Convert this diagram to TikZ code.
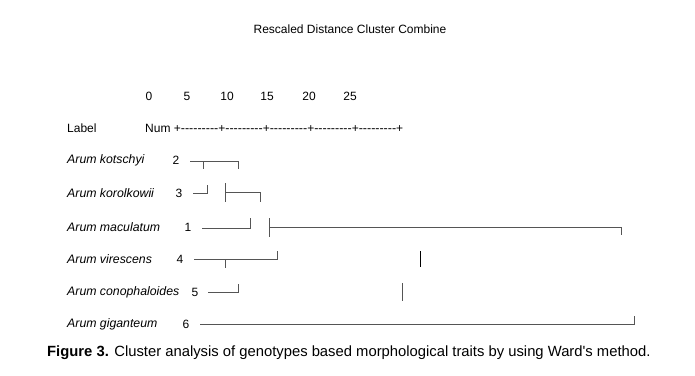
\documentclass[tikz,border=0pt]{standalone}
\usepackage{fontspec}
\setmainfont{Liberation Sans}[Ligatures=TeXOff]
\definecolor{ln}{HTML}{555555}
\newcommand\dashrun{{\fontsize{12.5}{14}\selectfont ---------}}
\begin{document}
\begin{tikzpicture}[x=1pt,y=-1pt,
  txt/.style={inner sep=0pt,font=\fontsize{12}{14}\selectfont,text=black},
  sp/.style={txt,anchor=west,font=\fontsize{12.3}{14}\selectfont\itshape},
  num/.style={txt,anchor=center},
  br/.style={draw=ln,line width=0.8pt},
  bk/.style={draw=black,line width=1pt}]
\useasboundingbox[fill=white] (0,0) rectangle (695,375);
\node[txt] (title) at (350,29) {Rescaled Distance Cluster Combine};
\foreach \v/\x in {0/149,5/187,10/227,15/267,20/309,25/350}
  \node[num] (s\v) at (\x,96) {\v};
\node[txt,anchor=west] (lab) at (67,128) {Label};
\node[txt,anchor=west] (numh) at (145,128) {Num +\dashrun+\dashrun+\dashrun+\dashrun+\dashrun+};
% species
\node[sp] (t2) at (67,160) {Arum kotschyi};
\node[num] (n2) at (176,160) {2};
\node[sp] (t3) at (67,193) {Arum korolkowii};
\node[num] (n3) at (179,193) {3};
\node[sp] (t1) at (67,227) {Arum maculatum};
\node[num] (n1) at (188,227) {1};
\node[sp] (t4) at (67,259) {Arum virescens};
\node[num] (n4) at (180,259) {4};
\node[sp] (t5) at (67,292) {Arum conophaloides};
\node[num] (n5) at (195,292) {5};
\node[sp] (t6) at (67,324) {Arum giganteum};
\node[num] (n6) at (186,324) {6};
% branches
\draw[br] (190,161) -- (238,161) -- (238,169);
\draw[br] (203,161) -- (203,169);
\draw[br] (193,193) -- (207,193) -- (207,185);
\draw[br] (225,183) -- (225,202);
\draw[br] (225,192) -- (260,192) -- (260,202);
\draw[br] (202,228) -- (250,228) -- (250,218);
\draw[br] (269,218) -- (269,237);
\draw[br] (269,227) -- (621,227) -- (621,235);
\draw[br] (194,259) -- (277,259) -- (277,251);
\draw[br] (225,259) -- (225,268);
\draw[bk] (420,251) -- (420,267);
\draw[br] (208,292) -- (238,292) -- (238,284);
\draw[br] (402,283) -- (402,301);
\draw[br] (200,324) -- (634,324) -- (634,316);
% caption
\node[txt,anchor=west,font=\fontsize{14.8}{17}\selectfont] (cap) at (47,353) {\textbf{Figure 3.} Cluster analysis of genotypes based morphological traits by using Ward's method.};
\end{tikzpicture}
\end{document}
